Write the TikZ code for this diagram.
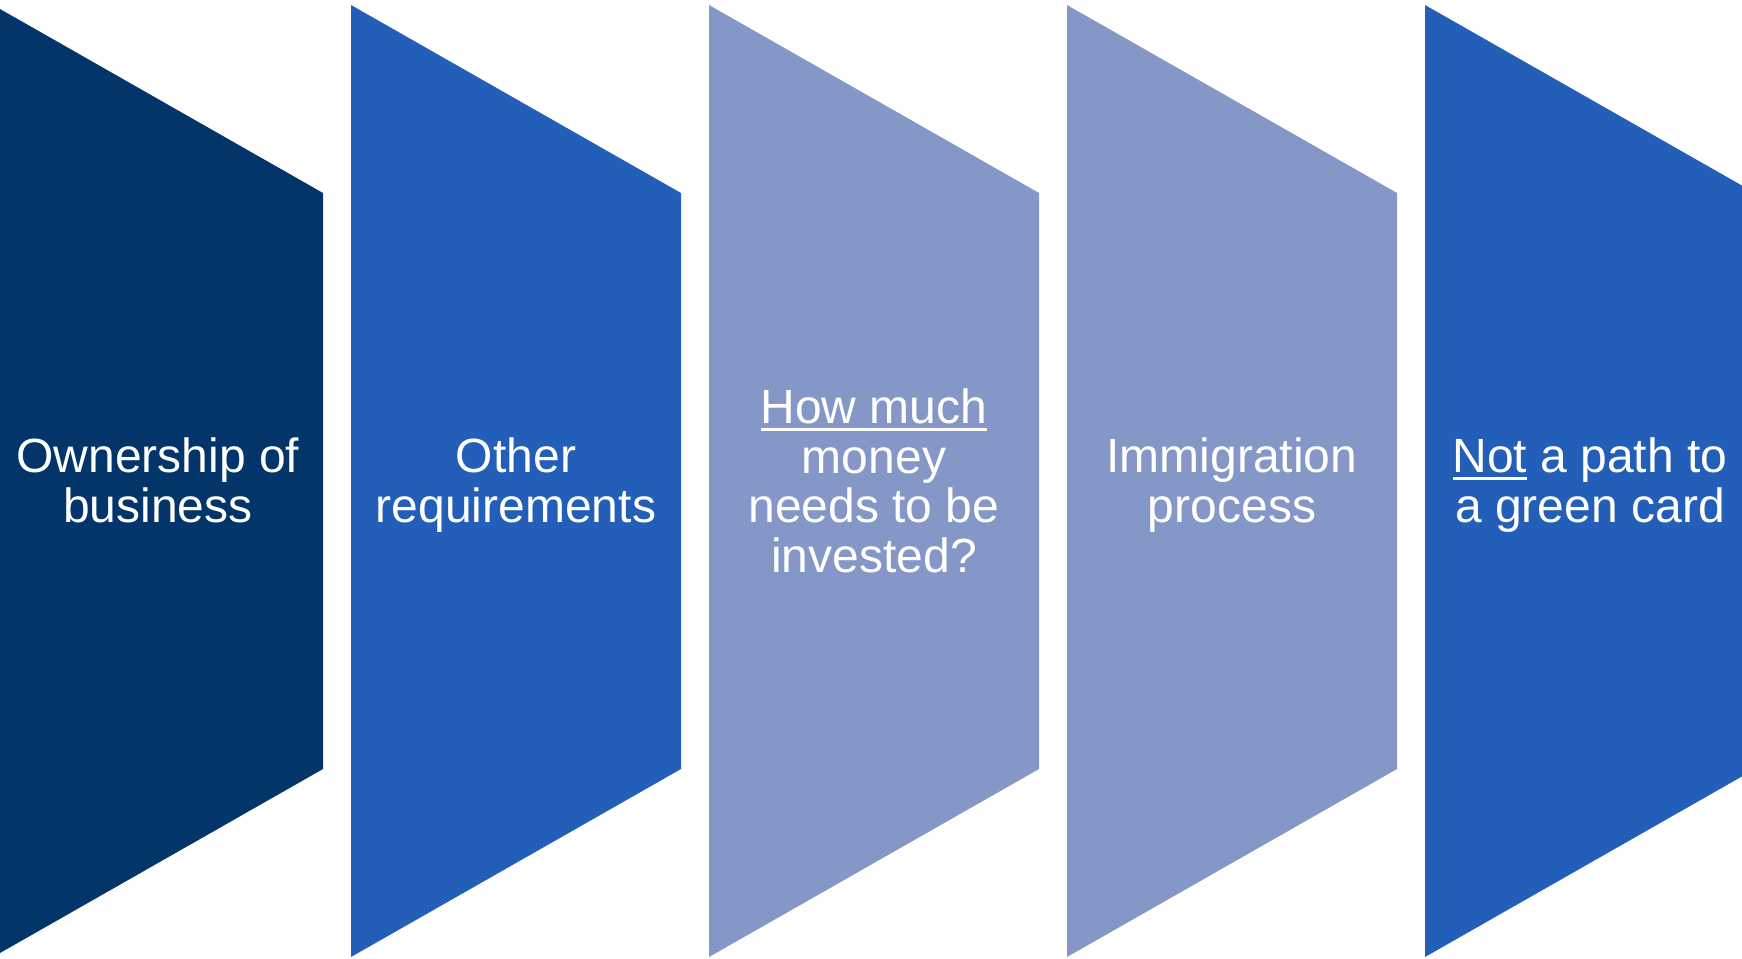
\documentclass[tikz,border=0pt]{standalone}
\usepackage{fontspec}
\setmainfont{Liberation Sans}
\definecolor{navy}{RGB}{3,52,106}
\definecolor{midblue}{RGB}{35,95,185}
\definecolor{paleblue}{RGB}{132,151,198}
\newcommand\myul[1]{\setbox0\hbox{#1}\rlap{\rule[-7.5pt]{\wd0}{2.6pt}}\box0\relax}
\tikzset{
  lbl/.style={text=white, align=center, font=\fontsize{48}{49.5}\selectfont, inner sep=0pt, anchor=base},
}
\begin{document}
\begin{tikzpicture}[x=1pt,y=-1pt]
\useasboundingbox (0,0) rectangle (1742,958);
\clip (0,0) rectangle (1742,958);
\foreach \xl/\col in {-7/navy, 351/midblue, 709/paleblue, 1067/paleblue, 1425/midblue}{
  \fill[\col] (\xl,5) -- ({\xl+330},193) -- ({\xl+330},769) -- (\xl,957) -- cycle;
}
\node[lbl] (s1) at (158,522) {Ownership of\\business};
\node[lbl] (s2) at (516,522) {Other\\requirements};
\node[lbl] (s3) at (874,572) {\myul{How much}\\money\\needs to be\\invested?};
\node[lbl] (s4) at (1232,522) {Immigration\\process};
\node[lbl] (s5) at (1590,522) {\myul{Not} a path to\\a green card};
\end{tikzpicture}
\end{document}
